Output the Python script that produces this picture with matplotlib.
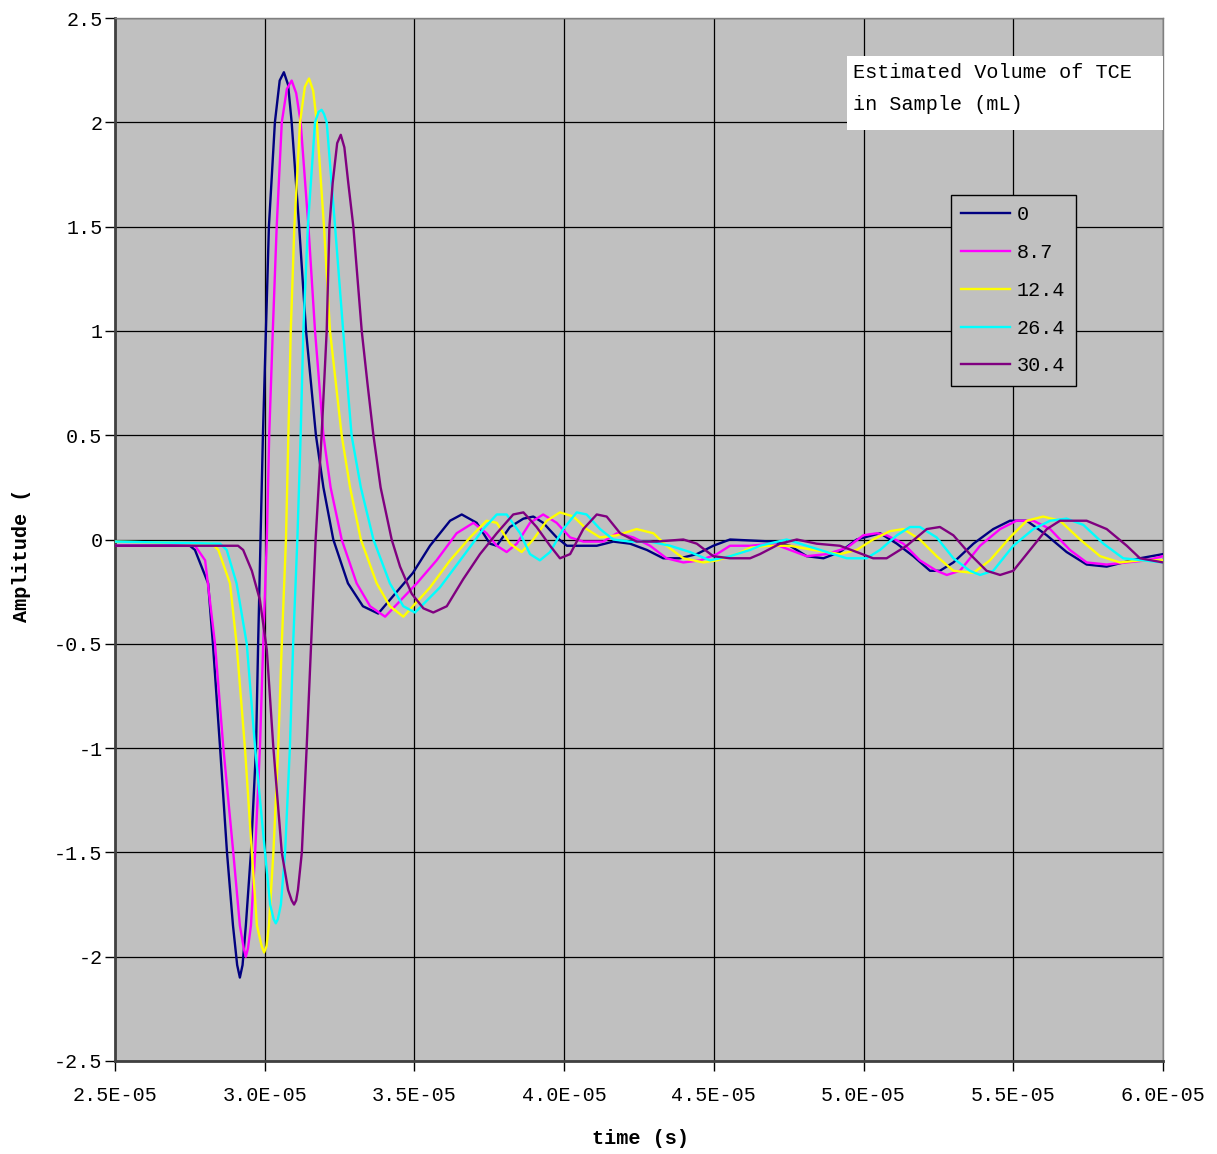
import numpy as np
import matplotlib
matplotlib.use('Agg')
import matplotlib.pyplot as plt
from matplotlib.patches import Rectangle

# time in microseconds, amplitude
t_0 = [25.00, 27.50, 27.67, 28.11, 28.27, 28.51, 28.74, 28.94, 29.08, 29.17, 29.26, 29.37,
       29.54, 29.71, 29.78, 29.86, 29.94, 30.04, 30.14, 30.34, 30.50, 30.64, 30.78, 30.90,
       31.15, 31.38, 31.71, 31.96, 32.29, 32.78, 33.28, 33.79, 34.95, 35.52, 36.19, 36.58,
       37.08, 37.52, 37.75, 38.19, 38.64, 38.97, 39.30, 39.75, 40.09, 41.09, 41.64, 42.20,
       42.76, 43.31, 43.87, 44.43, 44.98, 45.54, 46.99, 47.54, 48.10, 48.66, 49.21, 49.77,
       50.55, 51.11, 51.66, 52.22, 52.55, 53.00, 53.67, 54.33, 54.89, 55.45, 56.12, 56.78,
       57.45, 58.12, 58.67, 59.23, 60.00]
a_0 = [-0.03, -0.03, -0.05, -0.21, -0.50, -1.00, -1.50, -1.85, -2.04, -2.10, -2.04, -1.85,
       -1.50, -1.00, -0.50, 0.00, 0.50, 1.00, 1.50, 2.00, 2.20, 2.24, 2.18, 2.00,
       1.50, 1.00, 0.50, 0.25, 0.00, -0.21, -0.32, -0.355, -0.16, -0.03, 0.09, 0.12,
       0.08, -0.02, -0.03, 0.06, 0.10, 0.11, 0.08, 0.01, -0.03, -0.03, -0.01, -0.02,
       -0.05, -0.09, -0.09, -0.07, -0.03, 0.00, -0.01, -0.03, -0.08, -0.09, -0.06, 0.00,
       0.03, -0.02, -0.08, -0.15, -0.15, -0.11, -0.02, 0.05, 0.09, 0.09, 0.02, -0.06,
       -0.12, -0.13, -0.11, -0.09, -0.07]

t_87 = [25.00, 27.67, 27.77, 28.01, 28.34, 28.62, 28.95, 29.17, 29.30, 29.37, 29.44, 29.54,
        29.68, 29.84, 29.95, 30.07, 30.15, 30.27, 30.40, 30.57, 30.74, 30.90, 31.05, 31.20,
        31.46, 31.68, 31.96, 32.20, 32.57, 33.07, 33.52, 34.02, 35.08, 35.74, 36.41, 36.97,
        37.41, 37.75, 38.08, 38.42, 38.86, 39.30, 39.75, 40.20, 40.64, 41.31, 41.76, 42.31,
        42.87, 43.42, 43.98, 44.54, 45.10, 45.54, 46.21, 46.99, 47.54, 48.10, 48.77, 49.44,
        49.99, 50.44, 50.77, 51.33, 51.88, 52.44, 52.78, 53.22, 53.89, 54.56, 55.11, 55.67,
        56.23, 56.89, 57.45, 58.12, 58.79, 59.46, 60.00]
a_87 = [-0.03, -0.03, -0.05, -0.10, -0.50, -1.00, -1.50, -1.85, -1.96, -2.00, -1.96, -1.85,
        -1.50, -1.00, -0.50, 0.00, 0.50, 1.00, 1.50, 2.00, 2.16, 2.20, 2.14, 2.00,
        1.50, 1.00, 0.50, 0.25, 0.00, -0.21, -0.32, -0.37, -0.21, -0.10, 0.03, 0.08,
        0.03, -0.03, -0.06, -0.02, 0.08, 0.12, 0.08, 0.01, -0.01, -0.01, 0.03, 0.01,
        -0.03, -0.09, -0.11, -0.10, -0.07, -0.03, -0.03, -0.02, -0.05, -0.08, -0.07, -0.04,
        0.02, 0.03, 0.02, -0.02, -0.10, -0.15, -0.17, -0.15, -0.03, 0.05, 0.09, 0.09,
        0.05, -0.05, -0.11, -0.12, -0.11, -0.10, -0.08]

t_124 = [25.00, 28.17, 28.24, 28.45, 28.84, 29.06, 29.34, 29.57, 29.74, 29.90, 29.98, 30.06,
         30.14, 30.29, 30.45, 30.57, 30.71, 30.79, 30.87, 30.99, 31.18, 31.34, 31.48, 31.62,
         31.74, 31.98, 32.18, 32.57, 32.85, 33.21, 33.74, 34.18, 34.63, 35.52, 36.19, 36.86,
         37.41, 37.75, 38.19, 38.58, 38.97, 39.42, 39.86, 40.31, 40.75, 41.20, 41.76, 42.42,
         42.98, 43.42, 43.98, 44.65, 45.10, 45.76, 46.21, 46.77, 47.54, 48.32, 49.21, 49.77,
         50.32, 50.88, 51.33, 51.88, 52.44, 53.00, 53.67, 54.22, 54.89, 55.45, 56.00, 56.56,
         57.23, 57.90, 58.56, 59.23, 60.00]
a_124 = [-0.01, -0.02, -0.02, -0.05, -0.21, -0.50, -1.00, -1.50, -1.85, -1.95, -1.98, -1.95,
         -1.85, -1.50, -1.00, -0.50, 0.00, 0.50, 1.00, 1.50, 2.00, 2.17, 2.21, 2.15,
         2.00, 1.50, 1.00, 0.50, 0.25, 0.00, -0.21, -0.32, -0.37, -0.23, -0.10, 0.01,
         0.09, 0.08, -0.02, -0.06, 0.00, 0.09, 0.13, 0.11, 0.05, 0.01, 0.02, 0.05,
         0.03, -0.03, -0.09, -0.11, -0.10, -0.07, -0.04, -0.03, -0.03, -0.05, -0.07, -0.05,
         0.00, 0.04, 0.05, 0.00, -0.08, -0.15, -0.16, -0.10, 0.01, 0.09, 0.11, 0.09,
         0.00, -0.08, -0.11, -0.10, -0.10]

t_264 = [25.00, 28.51, 28.73, 29.06, 29.40, 29.68, 30.01, 30.18, 30.30, 30.37, 30.44, 30.54,
         30.68, 30.84, 30.95, 31.09, 31.20, 31.29, 31.44, 31.68, 31.80, 31.90, 31.98, 32.07,
         32.35, 32.62, 32.90, 33.21, 33.63, 34.18, 34.63, 35.02, 35.85, 36.63, 37.30, 37.75,
         38.08, 38.53, 38.86, 39.19, 39.53, 39.97, 40.42, 40.75, 41.20, 41.64, 42.20, 42.87,
         43.54, 44.20, 44.87, 45.54, 46.21, 46.54, 47.43, 48.10, 48.77, 49.44, 50.10, 50.55,
         51.11, 51.55, 51.88, 52.44, 53.00, 53.55, 53.89, 54.33, 55.00, 55.67, 56.23, 56.78,
         57.34, 58.01, 58.67, 59.34, 60.00]
a_264 = [-0.01, -0.02, -0.05, -0.21, -0.50, -1.00, -1.50, -1.75, -1.82, -1.84, -1.82, -1.75,
         -1.50, -1.00, -0.50, 0.00, 0.50, 1.00, 1.50, 2.00, 2.05, 2.06, 2.04, 2.00,
         1.50, 1.00, 0.50, 0.25, 0.00, -0.21, -0.32, -0.35, -0.23, -0.08, 0.05, 0.12,
         0.12, 0.03, -0.07, -0.10, -0.06, 0.05, 0.13, 0.12, 0.05, 0.00, -0.01, -0.01,
         -0.03, -0.06, -0.10, -0.08, -0.05, -0.03, 0.00, -0.03, -0.06, -0.09, -0.09, -0.05,
         0.02, 0.06, 0.06, 0.01, -0.09, -0.15, -0.17, -0.15, -0.03, 0.05, 0.09, 0.10,
         0.07, -0.02, -0.09, -0.10, -0.11]

t_304 = [25.00, 29.11, 29.28, 29.57, 29.84, 30.07, 30.29, 30.57, 30.78, 30.90, 30.98, 31.05,
         31.11, 31.24, 31.40, 31.55, 31.70, 31.90, 32.07, 32.16, 32.27, 32.42, 32.54, 32.66,
         32.79, 32.96, 33.24, 33.43, 33.63, 33.87, 34.24, 34.52, 34.91, 35.30, 35.63, 36.08,
         36.63, 37.19, 37.75, 38.30, 38.64, 39.08, 39.53, 39.86, 40.20, 40.64, 41.09, 41.42,
         41.87, 42.42, 43.09, 43.98, 44.43, 44.98, 45.54, 46.21, 46.54, 47.21, 47.77, 48.43,
         49.21, 49.77, 50.32, 50.77, 51.44, 52.11, 52.55, 53.00, 53.55, 54.11, 54.56, 55.00,
         55.56, 56.12, 56.56, 57.45, 58.12, 58.79, 59.23, 60.00]
a_304 = [-0.03, -0.03, -0.05, -0.15, -0.29, -0.53, -1.00, -1.50, -1.68, -1.73, -1.75, -1.73,
         -1.68, -1.50, -1.00, -0.50, 0.00, 0.50, 1.00, 1.50, 1.71, 1.90, 1.94, 1.88,
         1.71, 1.50, 1.00, 0.75, 0.50, 0.25, 0.00, -0.13, -0.26, -0.33, -0.35, -0.32,
         -0.19, -0.07, 0.03, 0.12, 0.13, 0.06, -0.03, -0.09, -0.07, 0.05, 0.12, 0.11,
         0.03, -0.01, -0.01, 0.00, -0.02, -0.08, -0.09, -0.09, -0.07, -0.02, 0.00, -0.02,
         -0.03, -0.06, -0.09, -0.09, -0.03, 0.05, 0.06, 0.02, -0.07, -0.15, -0.17, -0.15,
         -0.05, 0.05, 0.09, 0.09, 0.05, -0.03, -0.09, -0.11]

series = [
    (t_0, a_0, '0', '#000080'),
    (t_87, a_87, '8.7', '#FF00FF'),
    (t_124, a_124, '12.4', '#FFFF00'),
    (t_264, a_264, '26.4', '#00FFFF'),
    (t_304, a_304, '30.4', '#800080'),
]

x_ticks = [2.5e-5, 3.0e-5, 3.5e-5, 4.0e-5, 4.5e-5, 5.0e-5, 5.5e-5, 6.0e-5]
x_labels = ['2.5E-05', '3.0E-05', '3.5E-05', '4.0E-05', '4.5E-05', '5.0E-05', '5.5E-05', '6.0E-05']
y_ticks = [-2.5, -2, -1.5, -1, -0.5, 0, 0.5, 1, 1.5, 2, 2.5]
y_labels = ['-2.5', '-2', '-1.5', '-1', '-0.5', '0', '0.5', '1', '1.5', '2', '2.5']

mono = 'Liberation Mono'
W, H = 1217, 1154

fig = plt.figure(figsize=(W / 100, H / 100), dpi=100)
ax = fig.add_axes([115 / W, 1 - 1061 / H, 1048 / W, 1043 / H])
ax.set_facecolor('#C0C0C0')

for t, a, name, col in series:
    ax.plot(np.array(t) * 1e-6, a, color=col, lw=1.7, label=name, zorder=3)

ax.set_xlim(2.5e-5, 6.0e-5)
ax.set_ylim(-2.5, 2.5)
ax.set_xticks(x_ticks)
ax.set_xticklabels(x_labels, fontfamily=mono, fontsize=14.5)
ax.set_yticks(y_ticks)
ax.set_yticklabels(y_labels, fontfamily=mono, fontsize=14.5)
ax.tick_params(direction='out', length=7, width=1, color='black', pad=2)
ax.tick_params(axis='x', pad=11)
ax.grid(True, color='black', lw=0.9, zorder=1)
ax.set_axisbelow(True)
for side in ['left', 'bottom']:
    ax.spines[side].set_color('#404040')
    ax.spines[side].set_linewidth(2)
for side in ['top', 'right']:
    ax.spines[side].set_color('#808080')
    ax.spines[side].set_linewidth(1)

fig.text(640 / W, 1 - 1138 / H, 'time (s)', fontfamily=mono, fontweight='bold',
         fontsize=14.5, ha='center', va='center')
fig.text(22 / W, 1 - 555 / H, 'Amplitude (', fontfamily=mono, fontweight='bold',
         fontsize=14.5, rotation=90, ha='center', va='center')

# title box
fig.add_artist(Rectangle((847 / W, 1 - 130 / H), 316 / W, 74 / H, transform=fig.transFigure,
                         facecolor='white', edgecolor='none', zorder=5))
fig.text(853 / W, 1 - 72 / H, 'Estimated Volume of TCE', fontfamily=mono, fontsize=14.5,
         ha='left', va='center', zorder=6)
fig.text(853 / W, 1 - 104 / H, 'in Sample (mL)', fontfamily=mono, fontsize=14.5,
         ha='left', va='center', zorder=6)

leg = ax.legend(loc='upper left', bbox_to_anchor=(951 / W, 1 - 195 / H),
                bbox_transform=fig.transFigure, borderaxespad=0, fancybox=False,
                facecolor='#C0C0C0', edgecolor='black', framealpha=1,
                prop={'family': mono, 'size': 14.5}, handlelength=2.4,
                handletextpad=0.35, labelspacing=0.93, borderpad=0.52)
leg.get_frame().set_linewidth(1)

fig.savefig('out.png', dpi=100)
